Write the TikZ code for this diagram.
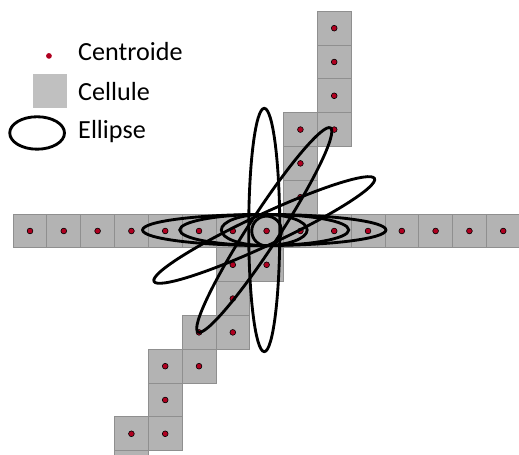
\documentclass[tikz,border=0pt]{standalone}
\usepackage{fontspec}
\setmainfont{Carlito}
\definecolor{cellfill}{HTML}{B3B3B3}
\definecolor{cellline}{HTML}{8F8F8F}
\definecolor{legendcell}{HTML}{C0C0C0}
\definecolor{dotred}{HTML}{B00020}
\tikzset{
  cellule/.style={draw=cellline, fill=cellfill, line width=.7pt, minimum size=1cm, inner sep=0pt},
  centroide/.style={circle, draw=black, fill=dotred, line width=.5pt, minimum size=.17cm, inner sep=0pt},
  trace/.style={draw=black, line width=2.4pt},
  legendtext/.style={anchor=base west, inner sep=0pt, font=\fontsize{22}{26}\selectfont}
}

\begin{document}
\begin{tikzpicture}[x=1cm,y=1cm]
\useasboundingbox (-0.888,-6.627) rectangle (14.467,6.834);
\clip (-0.888,-6.627) rectangle (14.467,6.834);

% Cells: horizontal row, lower staircase, upper column
\foreach \i in {0,...,14}
  \node[cellule] (cel-\i-0) at (\i,0) {};
\foreach \i/\j in {7/-1,6/-1,6/-2,6/-3,5/-3,5/-4,4/-4,4/-5,4/-6,3/-6,3/-7,
                   8/1,8/2,8/3,9/3,9/4,9/5,9/6}
  \node[cellule] (cel-\i-\j) at (\i,\j) {};

% Centroids
\foreach \i in {0,...,14}
  \node[centroide] (ctr-\i-0) at (cel-\i-0.center) {};
\foreach \i/\j in {7/-1,6/-1,6/-2,6/-3,5/-3,5/-4,4/-4,4/-5,4/-6,3/-6,
                   8/1,8/2,8/3,9/3,9/4,9/5,9/6}
  \node[centroide] (ctr-\i-\j) at (cel-\i-\j.center) {};

% Ellipses round the central cell
\coordinate (foyer) at (6.93,0.03);
\draw[trace] (foyer) ellipse [x radius=3.6, y radius=.46];
\draw[trace] (foyer) ellipse [x radius=2.5, y radius=.46];
\draw[trace] (foyer) ellipse [x radius=1.27, y radius=.46];
\draw[trace] (ctr-7-0) circle [radius=.44];
\draw[trace, rotate around={90:(foyer)}] (foyer) ellipse [x radius=3.6, y radius=.46];
\draw[trace, rotate around={25:(foyer)}] (foyer) ellipse [x radius=3.6, y radius=.46];
\draw[trace, rotate around={57:(foyer)}] (foyer) ellipse [x radius=3.6, y radius=.46];

% Legend
\node[circle, fill=dotred, minimum size=.17cm, inner sep=0pt] (legdot) at (0.56,5.18) {};
\node[legendtext] (legdottxt) at (1.42,5.03) {Centroide};
\node[fill=legendcell, minimum size=1cm, inner sep=0pt] (legcel) at (0.58,4.14) {};
\node[legendtext] (legceltxt) at (1.42,3.85) {Cellule};
\draw[trace] (0.21,2.90) ellipse [x radius=.81, y radius=.48];
\node[legendtext] (legelltxt) at (1.42,2.75) {Ellipse};

\end{tikzpicture}
\end{document}
